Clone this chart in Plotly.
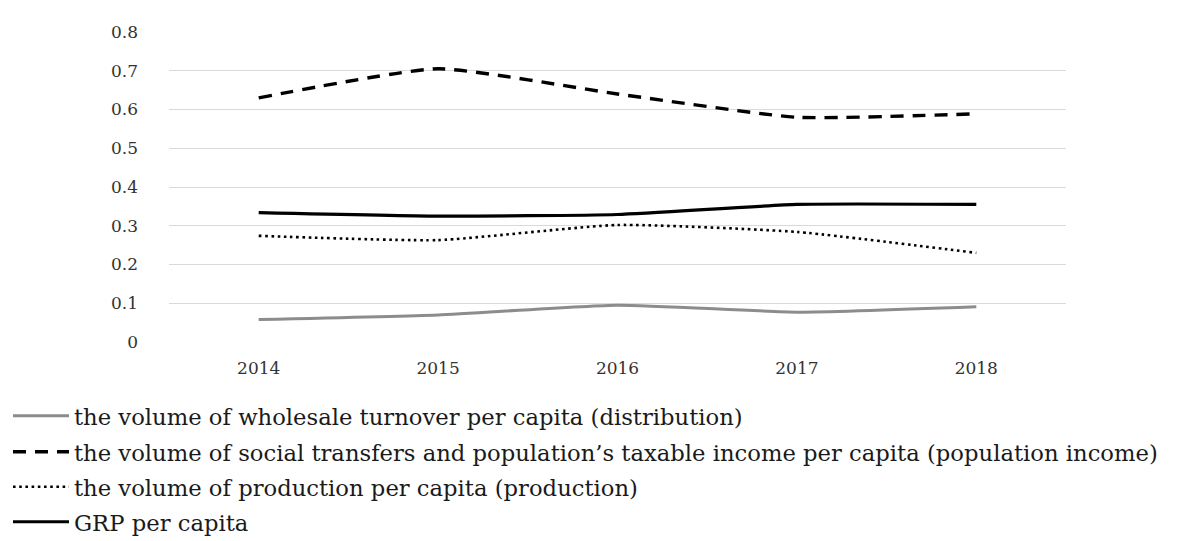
import plotly.graph_objects as go

years = ["2014", "2015", "2016", "2017", "2018"]
distribution = [0.058, 0.070, 0.095, 0.077, 0.091]
population_income = [0.630, 0.705, 0.640, 0.580, 0.589]
production = [0.274, 0.263, 0.302, 0.284, 0.230]
grp = [0.334, 0.325, 0.329, 0.355, 0.355]
y_ticks = [0, 0.1, 0.2, 0.3, 0.4, 0.5, 0.6, 0.7, 0.8]
y_labels = ["0", "0.1", "0.2", "0.3", "0.4", "0.5", "0.6", "0.7", "0.8"]

names = [
    "the volume of wholesale turnover per capita (distribution)",
    "the volume of social transfers and population’s taxable income per capita (population income)",
    "the volume of production per capita (production)",
    "GRP per capita",
]

fig = go.Figure()
fig.add_trace(go.Scatter(x=years, y=distribution, mode="lines", name=names[0], legend="legend",
                         line=dict(color="#8c8c8c", width=3, shape="spline", smoothing=0.5)))
fig.add_trace(go.Scatter(x=years, y=population_income, mode="lines", name=names[1], legend="legend2",
                         line=dict(color="#000000", width=3.4, dash="13px,9px", shape="spline", smoothing=0.5)))
fig.add_trace(go.Scatter(x=years, y=production, mode="lines", name=names[2], legend="legend3",
                         line=dict(color="#000000", width=2.6, dash="2.6px,3.6px", shape="spline", smoothing=0.5)))
fig.add_trace(go.Scatter(x=years, y=grp, mode="lines", name=names[3], legend="legend4",
                         line=dict(color="#000000", width=3.2, shape="spline", smoothing=0.5)))

legend_font = dict(family="DejaVu Serif", size=22.7, color="#1a1a1a")
row_y = [408, 444, 479, 514]
plot_left = 161
plot_width = 1180 - 161 - 122


def make_legend(py):
    return dict(orientation="v", xref="paper", yref="container",
                x=(-plot_left - 4) / plot_width,
                y=1 - py / 541, xanchor="left", yanchor="middle", font=legend_font,
                itemwidth=56, bgcolor="rgba(0,0,0,0)")


fig.update_layout(
    width=1180, height=541,
    margin=dict(l=plot_left, r=122, t=24, b=207),
    paper_bgcolor="white", plot_bgcolor="white",
    font=dict(family="DejaVu Serif", size=17, color="#333333"),
    xaxis=dict(type="category", range=[-0.5, 4.5], showgrid=False, showline=False,
               ticks="", tickfont=dict(size=17), ticklabelstandoff=14),
    yaxis=dict(range=[0, 0.8], tickvals=y_ticks, ticktext=y_labels, showgrid=True,
               gridcolor="#d9d9d9", gridwidth=1, zeroline=False, showline=False,
               tickfont=dict(size=17), ticklabelstandoff=30),
    legend=make_legend(row_y[0]),
    legend2=make_legend(row_y[1]),
    legend3=make_legend(row_y[2]),
    legend4=make_legend(row_y[3]),
    showlegend=True,
)

fig.write_html("out.html")
